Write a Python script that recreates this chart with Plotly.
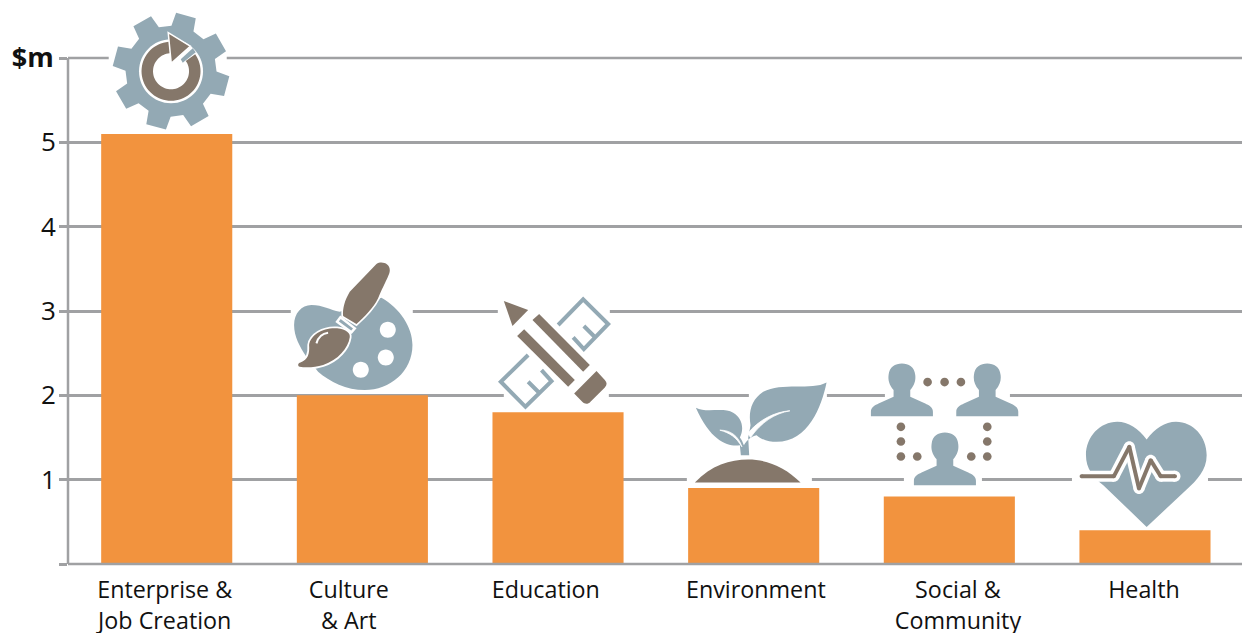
import math, re
import plotly.graph_objects as go

# ---- data ----
categories = ["Enterprise &<br>Job Creation", "Culture<br>& Art", "Education",
              "Environment", "Social &<br>Community", "Health"]
values = [5.1, 2.0, 1.8, 0.9, 0.8, 0.4]
y_ticks = [0, 1, 2, 3, 4, 5, 6]
y_labels = ["", "1", "2", "3", "4", "5",
            '<span style="font-size:27px"><b>$m</b></span><span style="font-size:8px">&nbsp;</span>']
label_centres_px = [165, 349, 546, 756, 958, 1144]

# ---- layout constants ----
W, H = 1242, 633
ML, MR, MT, MB = 68.3, 0, 58.3, 69.3
BAND, FIRST = 195.6, 167.0
ORANGE, GREY, BLUE, BROWN = "#f2933e", "#a0a1a3", "#93a9b4", "#85776a"
FONT = "Open Sans"
PW, PH = W - ML - MR, H - MT - MB


def X(px):
    return (px - ML) / PW


def Y(py):
    return (H - MB - py) / PH


NUM = re.compile(r"(-?\d+(?:\.\d+)?)[ ,]+(-?\d+(?:\.\d+)?)")


def path(d, ox=0.0, oy=0.0, s=1.0):
    """Convert an SVG path drawn in picture pixels to paper coordinates."""
    def rep(m):
        return f"{X(ox + float(m[1]) * s):.5f},{Y(oy + float(m[2]) * s):.5f}"
    return NUM.sub(rep, d)


shapes = []
LW = 2.5
# top gridline and the two axis lines
shapes.append(dict(type="line", xref="paper", yref="paper", x0=0, x1=1, y0=1, y1=1, layer="below",
                   line=dict(color=GREY, width=LW)))
shapes.append(dict(type="line", xref="paper", yref="paper", x0=0, x1=1, y0=0, y1=0, layer="above",
                   line=dict(color=GREY, width=LW)))
shapes.append(dict(type="line", xref="paper", yref="paper", x0=0, x1=0, y0=0, y1=1, layer="above",
                   line=dict(color=GREY, width=LW)))


def add(d, fill=None, stroke=None, width=0, ox=0.0, oy=0.0, s=1.0, evenodd=False):
    sh = dict(type="path", xref="paper", yref="paper", layer="above", path=path(d, ox, oy, s),
              line=dict(color=stroke or "rgba(0,0,0,0)", width=width))
    if fill:
        sh["fillcolor"] = fill
    if evenodd:
        sh["fillrule"] = "evenodd"
    shapes.append(sh)


def circ(cx, cy, r):
    k = 0.5523 * r
    return (f"M {cx-r} {cy} C {cx-r} {cy-k} {cx-k} {cy-r} {cx} {cy-r} "
            f"C {cx+k} {cy-r} {cx+r} {cy-k} {cx+r} {cy} "
            f"C {cx+r} {cy+k} {cx+k} {cy+r} {cx} {cy+r} "
            f"C {cx-k} {cy+r} {cx-r} {cy+k} {cx-r} {cy} Z")


# gridline gaps behind the icons
for x0, x1, yy in [(109, 227, 58.3), (291, 413, 310.5), (498, 610, 310.5), (504, 609, 395.3),
                   (749, 827, 395.3), (885, 1010, 395.3), (687, 812, 479), (904, 982, 479),
                   (1072, 1208, 479)]:
    add(f"M {x0} {yy-3} L {x1} {yy-3} L {x1} {yy+3} L {x0} {yy+3} Z", fill="white")

# --- gear icon ---
cx, cy = 171.3, 71.5
pts = []
for i in range(8):
    a = math.radians(75 - 45 * i)
    for r, off in [(45.5, 14.5), (58.5, 10), (58.5, -10), (45.5, -14.5)]:
        aa = a + math.radians(off)
        pts.append((cx + r * math.cos(aa), cy - r * math.sin(aa)))
add("M " + " L ".join(f"{x:.2f} {y:.2f}" for x, y in pts) + " Z", fill=BLUE)
add(circ(cx, cy, 32), fill="white")
# grey strip through the ring gap
add("M 181 59.5 L 193 48.5 L 196 52.5 L 183 63 Z", fill=BLUE)
ring_o, ring_i = [], []
for deg in range(90, 396, 5):
    a = math.radians(deg)
    ring_o.append((cx + 29.5 * math.cos(a), cy - 29.5 * math.sin(a)))
    ring_i.append((cx + 18 * math.cos(a), cy - 18 * math.sin(a)))
ring = ring_o + ring_i[::-1]
add("M " + " L ".join(f"{x:.2f} {y:.2f}" for x, y in ring) + " Z", fill=BROWN)
add("M 168.5 33 L 190.5 46.5 L 171.5 63.5 Z", fill=BROWN, stroke="white", width=1.5)

# --- palette + brush ---
Z2 = dict(ox=280, oy=250, s=1 / 3)
add("M 95 165 C 130 165 150 180 180 185 L 305 143 C 360 175 398 230 398 285 "
    "C 398 365 330 420 255 420 C 200 420 150 395 115 365 L 80 320 "
    "C 60 290 43 260 43 225 C 43 190 65 165 95 165 Z", fill=BLUE, **Z2)
for c in [(324, 239), (318, 322), (243, 359)]:
    add(circ(c[0], c[1], 24), fill="white", **Z2)
handle = ("M 290 42 C 305 32 330 40 330 60 C 330 75 318 90 295 145 C 280 175 255 200 230 222 "
          "L 190 198 C 188 175 195 150 210 125 Z")
add(handle, fill=BROWN, stroke="white", width=3.5, **Z2)
add(handle, fill=BROWN, **Z2)
ferrule = "M 182 202 L 225 235 L 215 247 L 172 215 Z"
add(ferrule, fill=BLUE, stroke="white", width=2.5, **Z2)
bristle = ("M 172 235 C 200 238 212 250 210 262 C 205 295 175 330 130 345 "
           "C 105 353 75 353 60 350 C 52 347 55 338 62 337 C 85 330 90 310 88 285 "
           "C 92 255 130 232 172 235 Z")
add(bristle, fill=BROWN, stroke="white", width=3.5, **Z2)
add(bristle, fill=BROWN, **Z2)
add("M 110 280 C 115 262 128 250 145 248", stroke="white", width=2, **Z2)

# --- pencil + ruler ---
add("M 835 225 L 910 148 L 985 222 L 912 297 L 880 262 M 912 228 L 942 258",
    stroke=BLUE, width=4, **Z2)
add("M 745 315 L 663 395 L 737 470 L 815 393 L 785 360 M 745 395 L 775 425",
    stroke=BLUE, width=4, **Z2)
for d in ["M 672 153 L 745 180 L 698 228 Z",
          "M 758 210 L 778 192 L 930 345 L 910 365 Z",
          "M 712 258 L 733 238 L 885 390 L 865 410 Z",
          "M 883 430 L 950 363 L 975 390 C 982 398 982 405 975 412 L 932 455 C 925 463 915 463 908 456 Z"]:
    add(d, fill=BROWN, **Z2)

# --- plant ---
Z3 = dict(ox=680, oy=350, s=1 / 3)
add("M 440 97 C 395 122 305 95 250 125 C 215 148 205 185 212 225 L 205 262 L 208 315 L 183 315 "
    "L 180 285 C 150 290 95 280 48 173 C 80 190 130 170 160 188 C 190 205 192 240 180 262 "
    "C 186 270 188 275 192 285 C 200 270 215 258 230 255 C 250 272 270 275 290 275 "
    "C 385 275 425 170 440 97 Z", fill=BLUE, **Z3)
add("M 204 250 C 235 210 285 185 330 182 C 285 190 245 215 212 262 Z", fill="white", stroke="white", width=0.8, **Z3)
add("M 120 240 C 150 240 175 255 186 290 C 170 262 150 248 120 240 Z", fill="white", stroke="white", width=0.8, **Z3)
add("M 45 397 C 95 345 150 328 205 328 C 260 328 315 350 362 397 Z", fill=BROWN, **Z3)


# --- people ---
def person(cx, top):
    d = (f"M {cx-93} {top+158} L {cx-93} {top+145} C {cx-93} {top+130} {cx-80} {top+125} {cx-70} {top+120} "
         f"L {cx-25} {top+100} L {cx-25} {top+80} C {cx-38} {top+65} {cx-42} {top+50} {cx-40} {top+35} "
         f"C {cx-38} {top+10} {cx-20} {top} {cx} {top} C {cx+20} {top} {cx+38} {top+10} {cx+40} {top+35} "
         f"C {cx+42} {top+50} {cx+38} {top+65} {cx+25} {top+80} L {cx+25} {top+100} L {cx+70} {top+120} "
         f"C {cx+80} {top+125} {cx+93} {top+130} {cx+93} {top+145} L {cx+93} {top+158} Z")
    return d


for c in [(666, 40), (922, 40), (795, 247)]:
    add(person(*c), fill=BLUE, **Z3)
for c in [(743, 96), (794, 96), (843, 96), (663, 230), (663, 274), (663, 319), (712, 319),
          (922, 230), (922, 274), (922, 319), (874, 319)]:
    add(circ(c[0], c[1], 13), fill=BROWN, **Z3)

# --- heart ---
Z4 = dict(ox=1040, oy=400, s=1 / 3)
add("M 320 118 C 345 85 375 65 408 65 C 460 65 500 110 500 165 C 500 210 470 240 440 268 "
    "L 320 380 L 190 255 C 160 230 138 205 138 165 C 138 110 180 65 232 65 C 265 65 295 85 320 118 Z",
    fill=BLUE, **Z4)
pulse_pts = [(125, 228), (222, 228), (268, 140), (297, 265), (332, 180), (362, 228), (405, 228)]
for a, b in zip(pulse_pts, pulse_pts[1:]):
    add(f"M {a[0]} {a[1]} L {b[0]} {b[1]}", stroke="white", width=11, **Z4)
for p in pulse_pts:
    add(circ(p[0], p[1], 16.5), fill="white", **Z4)
for a, b in zip(pulse_pts, pulse_pts[1:]):
    add(f"M {a[0]} {a[1]} L {b[0]} {b[1]}", stroke=BROWN, width=4, **Z4)
for p in pulse_pts:
    add(circ(p[0], p[1], 6), fill=BROWN, **Z4)

# ---- figure ----
fig = go.Figure(go.Bar(x=list(range(len(values))), y=values, width=0.67,
                       marker=dict(color=ORANGE, line=dict(width=0)), hoverinfo="skip"))
fig.update_layout(
    width=W, height=H, margin=dict(l=ML, r=MR, t=MT, b=MB, pad=0, autoexpand=False),
    paper_bgcolor="white", plot_bgcolor="white", showlegend=False,
    font=dict(family=FONT, color="#111111", size=24), shapes=shapes,
    xaxis=dict(range=[(ML - FIRST) / BAND, (W - FIRST) / BAND], showgrid=False, zeroline=False,
               showline=False, ticks="",
               tickmode="array", tickvals=[(p - FIRST) / BAND for p in label_centres_px],
               ticktext=categories, tickangle=0, tickfont=dict(size=23.3, family=FONT, color="#111111"),
               ticklabelstandoff=10),
    yaxis=dict(range=[0, 6], tickmode="array", tickvals=y_ticks, ticktext=y_labels,
               showgrid=True, gridcolor=GREY, gridwidth=LW, zeroline=False,
               showline=False,
               ticks="outside", ticklen=8, tickwidth=LW, tickcolor=GREY,
               tickfont=dict(size=26, family=FONT, color="#111111"), ticklabelstandoff=-2),
)
fig.write_html("out.html", config=dict(displayModeBar=False),
               post_script="document.body.style.margin='0';document.body.style.overflow='hidden';")
